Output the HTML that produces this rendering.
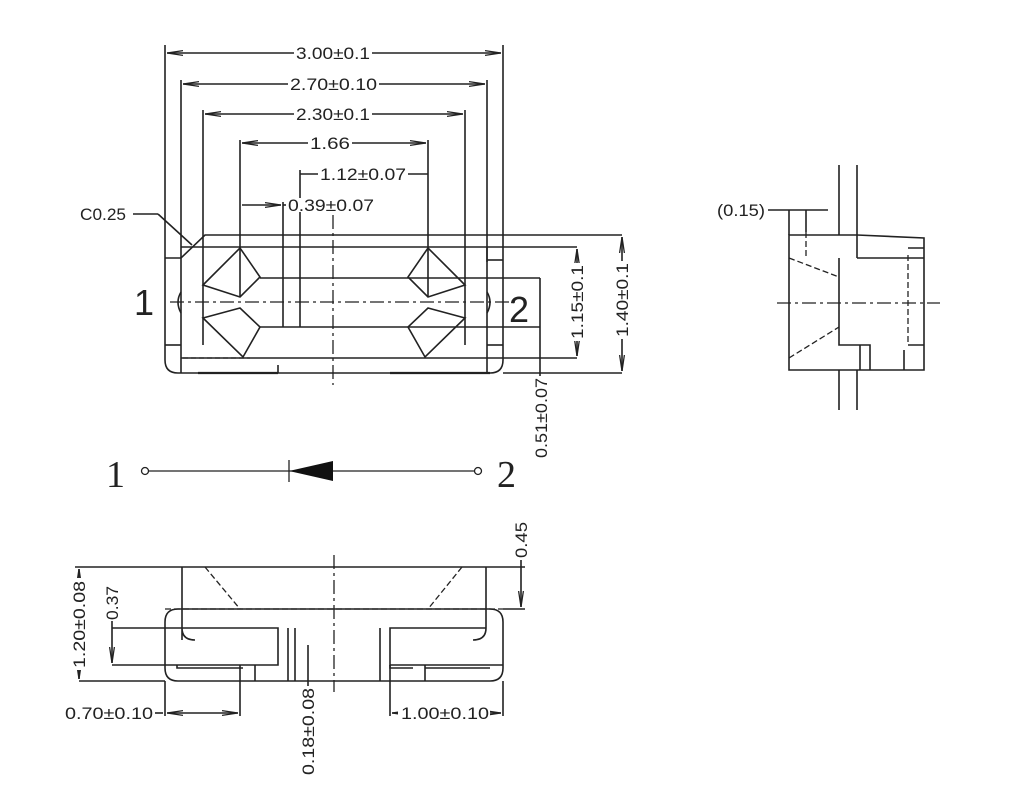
<!DOCTYPE html>
<html><head><meta charset="utf-8"><style>
html,body{margin:0;padding:0;background:#fff}
svg{display:block}
text{font-family:"Liberation Sans",sans-serif;fill:#222}
</style></head><body>
<svg width="1012" height="811" viewBox="0 0 1012 811" xmlns="http://www.w3.org/2000/svg">
<defs>
<marker id="a" viewBox="0 0 10 6" refX="10" refY="3" markerWidth="10" markerHeight="6" orient="auto-start-reverse"><path d="M0,1.5L10,3L0,4.5" fill="none" stroke="#222" stroke-width="0.8"/></marker>
</defs>
<g stroke="#222" stroke-width="1.6" fill="none">
<line x1="165" y1="45" x2="165" y2="258"/><line x1="503" y1="45" x2="503" y2="235"/>
<line x1="167" y1="53" x2="501" y2="53" marker-start="url(#a)" marker-end="url(#a)"/>
<line x1="181" y1="80" x2="181" y2="258"/><line x1="487" y1="80" x2="487" y2="262"/>
<line x1="183" y1="84" x2="485" y2="84" marker-start="url(#a)" marker-end="url(#a)"/>
<line x1="203" y1="110" x2="203" y2="345"/><line x1="465" y1="110" x2="465" y2="345"/>
<line x1="205" y1="114" x2="463" y2="114" marker-start="url(#a)" marker-end="url(#a)"/>
<line x1="240" y1="140" x2="240" y2="297"/><line x1="428" y1="140" x2="428" y2="297"/>
<line x1="242" y1="143" x2="426" y2="143" marker-start="url(#a)" marker-end="url(#a)"/>
<line x1="300" y1="170" x2="300" y2="327"/>
<line x1="300" y1="174" x2="318" y2="174"/><line x1="408" y1="174" x2="428" y2="174"/>
<line x1="283" y1="202" x2="283" y2="327"/>
<line x1="242" y1="205" x2="281" y2="205" marker-end="url(#a)"/><line x1="283" y1="205" x2="288" y2="205"/>
<path d="M165,258 V360 Q165,373 178,373 H490 Q503,373 503,360 V235 H205 L181,258 H165"/>
<line x1="503" y1="235" x2="622" y2="235"/>
<line x1="181" y1="247" x2="577" y2="247"/>
<line x1="260" y1="278" x2="540" y2="278"/>
<line x1="260" y1="327" x2="540" y2="327"/>
<line x1="181" y1="358" x2="503" y2="358"/>
<line x1="181" y1="258" x2="181" y2="373"/><line x1="487" y1="247" x2="487" y2="373"/>
<line x1="165" y1="345" x2="181" y2="345"/>
<line x1="487" y1="260" x2="503" y2="260"/><line x1="487" y1="345" x2="503" y2="345"/>
<line x1="503" y1="373" x2="622" y2="373"/>
<line x1="503" y1="358" x2="577" y2="358"/>
<path d="M181,292 Q175,302 181,313"/><path d="M487,292 Q493,302 487,313"/>
<path d="M203,285 L240,248 L260,277 L240,297 Z"/>
<path d="M203,318 L240,308 L260,327 L243,357 Z"/>
<path d="M465,285 L428,248 L408,277 L428,297 Z"/>
<path d="M465,318 L428,308 L408,327 L425,357 Z"/>
<line x1="198" y1="373" x2="278" y2="373" stroke-width="2.2"/><line x1="278" y1="373" x2="278" y2="365"/>
<line x1="390" y1="373" x2="490" y2="373" stroke-width="2.2"/>
<line x1="133" y1="214" x2="158" y2="214"/><line x1="158" y1="214" x2="192" y2="245"/>
<line x1="622" y1="237" x2="622" y2="371" marker-start="url(#a)" marker-end="url(#a)"/>
<line x1="577" y1="249" x2="577" y2="356" marker-start="url(#a)" marker-end="url(#a)"/>
<line x1="540" y1="278" x2="540" y2="376"/>
</g>
<g stroke="#222" stroke-width="1.3" fill="none" stroke-dasharray="14,4,3,4">
<line x1="170" y1="302" x2="515" y2="302"/>
<line x1="333" y1="215" x2="333" y2="385"/>
</g>
<line x1="183" y1="358" x2="250" y2="358" stroke="#222" stroke-width="1.3" stroke-dasharray="5,3"/>
<g fill="#fff">
<rect x="294" y="46" width="78" height="14"/><rect x="288" y="77" width="91" height="14"/><rect x="294" y="107" width="78" height="14"/><rect x="308" y="136" width="44" height="14"/>
<rect x="318" y="167" width="90" height="14"/><rect x="286" y="198" width="90" height="14"/>
<rect x="570" y="263" width="14" height="78"/><rect x="615" y="261" width="14" height="78"/>
</g>
<g font-size="16.5">
<text x="296" y="59" textLength="74" lengthAdjust="spacingAndGlyphs">3.00±0.1</text>
<text x="290" y="90" textLength="87" lengthAdjust="spacingAndGlyphs">2.70±0.10</text>
<text x="296" y="120" textLength="74" lengthAdjust="spacingAndGlyphs">2.30±0.1</text>
<text x="310" y="149" textLength="40" lengthAdjust="spacingAndGlyphs">1.66</text>
<text x="320" y="180" textLength="86" lengthAdjust="spacingAndGlyphs">1.12±0.07</text>
<text x="288" y="211" textLength="86" lengthAdjust="spacingAndGlyphs">0.39±0.07</text>
<text x="80" y="220" textLength="46" lengthAdjust="spacingAndGlyphs">C0.25</text>
<text transform="translate(583,339) rotate(-90)" textLength="74" lengthAdjust="spacingAndGlyphs">1.15±0.1</text>
<text transform="translate(628,337) rotate(-90)" textLength="74" lengthAdjust="spacingAndGlyphs">1.40±0.1</text>
<text transform="translate(547,458) rotate(-90)" textLength="80" lengthAdjust="spacingAndGlyphs">0.51±0.07</text>
</g>
<text x="134" y="315" font-size="36">1</text>
<text x="509" y="322" font-size="36">2</text>
<g stroke="#222" stroke-width="1.6" fill="none">
<path d="M789,235 H857 L924,238 V370 H789 Z"/>
<path d="M839,165 V235 M857,165 V258 M839,370 V410 M857,370 V410"/>
<path d="M857,258 H924 M839,258 V345 H870 V370 M860,345 V370"/>
<path d="M908,248 H924 M908,345 H924 M904,350 V370"/>
<path d="M768,210 H828 M789,210 V235 M806,210 V232"/>
</g>
<g stroke="#222" stroke-width="1.3" fill="none" stroke-dasharray="6,3">
<path d="M806,232 V258 M789,258 L839,277 M789,358 L839,327 M908,255 V345"/>
</g>
<line x1="777" y1="303" x2="940" y2="303" stroke="#222" stroke-width="1.3" stroke-dasharray="14,4,3,4"/>
<text x="717" y="216" font-size="16.5" textLength="48" lengthAdjust="spacingAndGlyphs">(0.15)</text>
<g stroke="#222" stroke-width="1.3" fill="none">
<circle cx="145" cy="471" r="3.5"/><circle cx="478" cy="471" r="3.5"/>
<line x1="149" y1="471" x2="474" y2="471"/><line x1="289" y1="460" x2="289" y2="482"/>
</g>
<path d="M289,471 L333,461 V481 Z" fill="#111"/>
<text x="106" y="487" font-size="38" style="font-family:'Liberation Serif',serif">1</text>
<text x="497" y="487" font-size="38" style="font-family:'Liberation Serif',serif">2</text>
<g stroke="#222" stroke-width="1.6" fill="none">
<path d="M75,567 H525 M182,567 V628 M486,567 V628"/>
<path d="M165,622 Q165,609 178,609 H490 Q503,609 503,622 V668 Q503,681 490,681 H178 Q165,681 165,668 Z"/>
<path d="M182,628 H278 V665 H165 M182,628 Q182,640 195,640 M182,640 V628"/>
<path d="M486,628 H390 V665 H503 M486,628 Q486,640 473,640"/>
<path d="M177,665 V668 H243 M255,665 V681 M288,628 V681 M295,628 V681 M380,628 V681"/>
<path d="M390,665 V668 H413 M425,665 V681 M425,668 H490"/>
<path d="M240,665 V716 M165,681 V716 M390,665 V716 M503,681 V716"/>
<line x1="79" y1="569" x2="79" y2="679" marker-start="url(#a)" marker-end="url(#a)"/>
<line x1="79" y1="681" x2="165" y2="681"/>
<line x1="112" y1="615" x2="112" y2="663" marker-end="url(#a)"/><line x1="112" y1="628" x2="182" y2="628"/><line x1="112" y1="665" x2="165" y2="665"/>
<line x1="521" y1="520" x2="521" y2="607" marker-end="url(#a)"/><line x1="503" y1="609" x2="525" y2="609"/>
<line x1="155" y1="713" x2="163" y2="713"/><line x1="167" y1="713" x2="238" y2="713" marker-start="url(#a)" marker-end="url(#a)"/>
<line x1="392" y1="713" x2="501" y2="713" marker-start="url(#a)" marker-end="url(#a)"/>
<line x1="308" y1="645" x2="308" y2="686"/>
</g>
<g stroke="#222" stroke-width="1.3" fill="none" stroke-dasharray="6,3">
<path d="M165,609 H503 M205,567 L240,609 M462,567 L428,609"/>
</g>
<line x1="334" y1="555" x2="334" y2="692" stroke="#222" stroke-width="1.3" stroke-dasharray="14,4,3,4"/>
<g fill="#fff"><rect x="398" y="706" width="92" height="14"/><rect x="72" y="578" width="14" height="92"/><rect x="105" y="583" width="14" height="38"/><rect x="514" y="520" width="14" height="40"/></g>
<g font-size="16.5">
<text transform="translate(85,668) rotate(-90)" textLength="87" lengthAdjust="spacingAndGlyphs">1.20±0.08</text>
<text transform="translate(118,620) rotate(-90)" textLength="34" lengthAdjust="spacingAndGlyphs">0.37</text>
<text transform="translate(527,558) rotate(-90)" textLength="36" lengthAdjust="spacingAndGlyphs">0.45</text>
<text x="65" y="719" textLength="88" lengthAdjust="spacingAndGlyphs">0.70±0.10</text>
<text x="401" y="719" textLength="88" lengthAdjust="spacingAndGlyphs">1.00±0.10</text>
<text transform="translate(314,775) rotate(-90)" textLength="87" lengthAdjust="spacingAndGlyphs">0.18±0.08</text>
</g>
</svg>
</body></html>
